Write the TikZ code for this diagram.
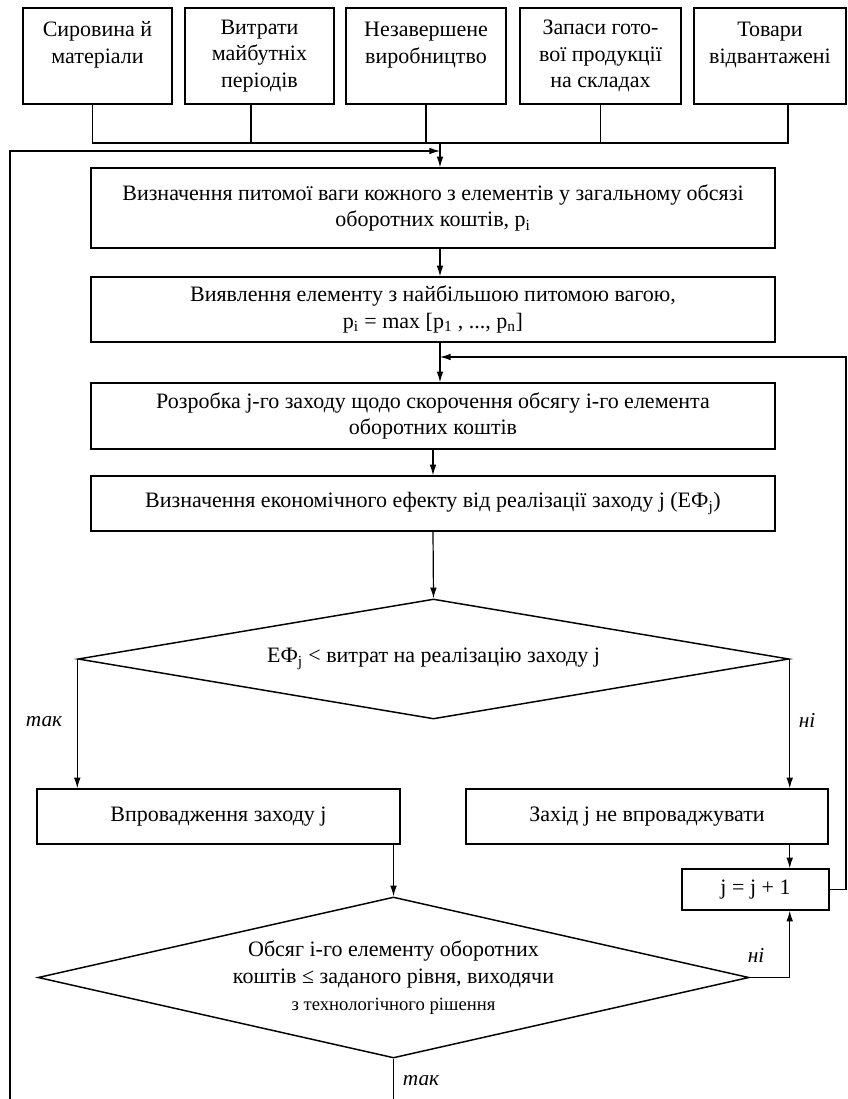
\documentclass[tikz,border=0pt]{standalone}
\usepackage{fontspec}
\setmainfont{Liberation Serif}
\usetikzlibrary{arrows.meta,shapes.geometric,positioning}
\tikzset{
	block/.style={draw, line width=1.1pt, align=center, inner sep=2pt},
	topbox/.style={block, minimum height=72pt},
	mainbox/.style={block, minimum width=513pt},
	cond/.style={diamond, draw, line width=1.1pt, align=center, inner sep=0pt, minimum width=533.25pt},
	flow/.style={line width=0.9pt},
	dirflow/.style={->,>={Latex[length=8pt,width=5pt]},line width=0.9pt},
	branchlabel/.style={font=\fontsize{16}{20}\selectfont\itshape, inner sep=1pt}
}

\begin{document}
\begin{tikzpicture}[x=0.75pt,y=-0.75pt,font=\fontsize{16.5}{20}\selectfont]
		\useasboundingbox (0,0) rectangle (847,1099);

		\node [topbox, minimum width=111.75pt] (0) at (97.5, 56) {Сировина й\\матеріали\\\mbox{}};
		\node [topbox, minimum width=111.75pt] (1) at (259.5, 56) {Витрати\\майбутніх\\періодів};
		\node [topbox, minimum width=120pt] (2) at (426, 56) {Незавершене\\виробництво\\\mbox{}};
		\node [topbox, minimum width=120.75pt] (3) at (600.5, 56) {Запаси гото-\\вої продукції\\на складах};
		\node [topbox, minimum width=114pt] (4) at (770, 56) {Товари\\відвантажені\\\mbox{}};

		\node [mainbox, minimum height=60pt] (5) at (433, 208) {Визначення питомої ваги кожного з елементів у загальному обсязі\\оборотних коштів, p\textsubscript{i}};
		\node [mainbox, minimum height=48.75pt] (6) at (433, 309.5) {Виявлення елементу з найбільшою питомою вагою,\\p\textsubscript{i} = max [p\textsubscript{1} , ..., p\textsubscript{n}]};
		\node [mainbox, minimum height=49.5pt] (7) at (433, 416) {Розробка j-го заходу щодо скорочення обсягу i-го елемента\\оборотних коштів};
		\node [mainbox, minimum height=41.25pt] (8) at (433, 503.5) {Визначення економічного ефекту від реалізації заходу j (ЕФ\textsubscript{j})};

		\node [cond, aspect=5.9, minimum height=90pt] (9) at (433.5, 659) {ЕФ\textsubscript{j} < витрат на реалізацію заходу j};
		\node [block, minimum width=272.25pt, minimum height=41.25pt] (11) at (218.5, 816.5) {Впровадження заходу j};
		\node [block, minimum width=271.5pt, minimum height=41.25pt] (12) at (647, 816.5) {Захід j не впроваджувати};
		\node [block, minimum width=110.25pt, minimum height=30.75pt] (13) at (755.5, 889.5) {j = j + 1};
		\node [cond, aspect=4.4, minimum height=120.75pt] (10) at (393.5, 977.5) {Обсяг i-го елементу оборотних\\коштів ≤ заданого рівня, виходячи\\{\fontsize{14}{17}\selectfont з технологічного рішення}};

		\node [branchlabel] (14) at (44, 722) {так};
		\node [branchlabel] (15) at (807, 720) {ні};
		\node [branchlabel] (16) at (756, 955) {ні};
		\node [branchlabel] (17) at (421, 1081) {так};

		\coordinate (c0) at (440, 143);
		\coordinate (c1) at (440, 151);
		\coordinate (c2) at (10, 1099);
		\coordinate (c3) at (846, 357);
		\coordinate (c4) at (440, 357);

		\draw [flow] ([xshift=-4pt]0.south) |- (c0);
		\draw [flow] ([xshift=-6.4pt]1.south) |- (c0);
		\draw [flow] (2.south) |- (c0);
		\draw [flow] (3.south) |- (c0);
		\draw [flow] ([xshift=13.5pt]4.south) |- (c0);
		\draw [dirflow] (c0) to (c0 |- 5.north);
		\draw [dirflow] (c2) |- (c1);
		\draw [dirflow] (c0 |- 5.south) to (c0 |- 6.north);
		\draw [dirflow] (c0 |- 6.south) to (c0 |- 7.north);
		\draw [dirflow] (13.east) -| (c3) to (c4);
		\draw [dirflow] (7) to (8);
		\draw [dirflow] (8.south) to (9.north);
		\draw [dirflow] (9.west) to (9.west |- 11.north);
		\draw [dirflow] (9.east) to (9.east |- 12.north);
		\draw [dirflow] (9.east |- 12.south) to (9.east |- 13.north);
		\draw [dirflow] (11.south -| 10.north) to (10.north);
		\draw [dirflow] (10.east) -| (9.east |- 13.south);
		\draw [flow] (10.south) to (10.south |- c2);
\end{tikzpicture}
\end{document}
